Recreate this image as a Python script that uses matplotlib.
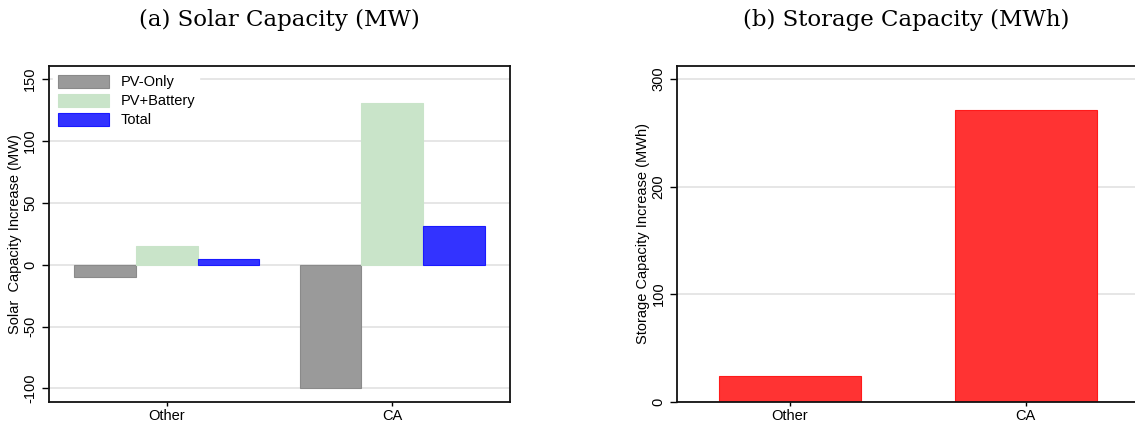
import numpy as np
import matplotlib
matplotlib.use("Agg")
import matplotlib.pyplot as plt

plt.rcParams["font.family"] = ["Liberation Sans", "DejaVu Sans"]
plt.rcParams["axes.unicode_minus"] = False

# ---- data
regions = ["Other", "CA"]
pv_only = [-10, -100]
pv_battery = [15, 131]
total = [4.5, 31.5]
storage = [24, 271]

solar_ticks = [-100, -50, 0, 50, 100, 150]
storage_ticks = [0, 100, 200, 300]

GRID = "#e1e1e1"
fig = plt.figure(figsize=(11.35, 4.25), dpi=100)
ax1 = fig.add_axes([0.0432, 0.0541, 0.4061, 0.7906])
ax2 = fig.add_axes([0.5967, 0.0548, 0.4033, 0.7899])

# (a) solar capacity
x = np.arange(len(regions))
w = 0.2735
ax1.bar(x - w, pv_only, w, color="#9a9a9a", edgecolor="#8a8a8a", lw=0.8, label="PV-Only", zorder=2)
ax1.bar(x, pv_battery, w, color="#c9e4c9", edgecolor="#c9e4c9", lw=0.8, label="PV+Battery", zorder=2)
ax1.bar(x + w, total, w, color="#3333ff", edgecolor="#1a1aff", lw=0.8, label="Total", zorder=2)
ax1.set_xlim(-0.522, 1.522)
ax1.set_ylim(-111, 160.5)
ax1.set_yticks(solar_ticks)
ax1.set_ylabel("Solar  Capacity Increase (MW)", fontsize=10.5, labelpad=1)
ax1.legend(loc="upper left", fontsize=10.5, frameon=True, fancybox=False,
           edgecolor="white", facecolor="white", framealpha=1,
           handlelength=3.5, handleheight=1.0, borderaxespad=0.3,
           labelspacing=0.3, handletextpad=0.8, borderpad=0.3)
ax1.set_title("(a) Solar Capacity (MW)", family="DejaVu Serif", fontsize=16.5, pad=29)

# (b) storage capacity
ax2.bar(x, storage, 0.6, color="#ff3333", edgecolor="#ff1a1a", lw=0.8, zorder=2)
ax2.set_xlim(-0.477, 1.463)
ax2.set_ylim(0, 312)
ax2.set_yticks(storage_ticks)
ax2.set_ylabel("Storage Capacity Increase (MWh)", fontsize=10.5, labelpad=1)
ax2.set_title("(b) Storage Capacity (MWh)", family="DejaVu Serif", fontsize=16.5, pad=29)
ax2.spines["right"].set_visible(False)

for ax in (ax1, ax2):
    ax.set_xticks(x)
    ax.set_xticklabels(regions, fontsize=10.5)
    ax.grid(axis="y", color=GRID, lw=1.2, zorder=0)
    ax.set_axisbelow(True)
    for s in ax.spines.values():
        s.set_linewidth(1.3)
        s.set_color("#111111")
    ax.tick_params(axis="y", labelsize=10.5, length=5, width=1, labelrotation=90)
    ax.tick_params(axis="x", length=3, width=1, pad=2)
    for lab in ax.get_yticklabels():
        lab.set_verticalalignment("center")

fig.savefig("out.png", dpi=100)
